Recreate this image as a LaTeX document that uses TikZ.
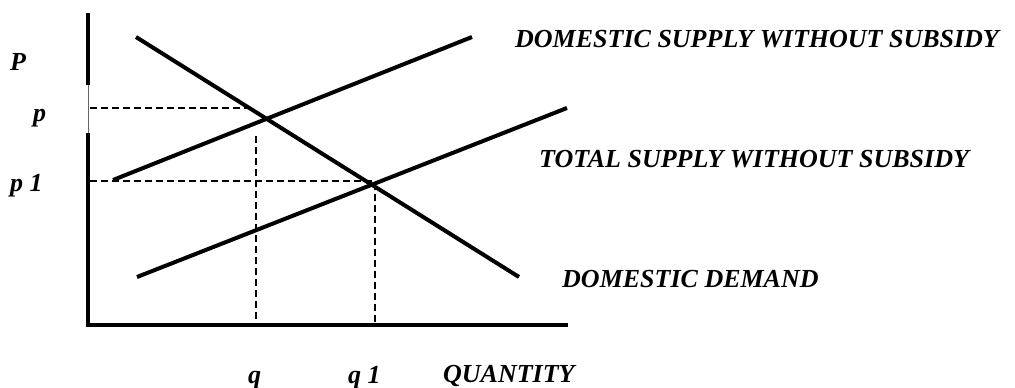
\documentclass[tikz,border=0pt]{standalone}
\usepackage{fontspec}
\setmainfont{Liberation Serif}
\begin{document}
\begin{tikzpicture}[x=1pt,y=-1pt,
  curve/.style={line width=4pt},
  axisline/.style={line width=4pt},
  guide/.style={line width=1.6pt,dash pattern=on 7pt off 4pt},
  lbl/.style={inner sep=0pt,anchor=base west,font=\fontsize{26}{30}\selectfont\bfseries\itshape}]
\useasboundingbox (0,0) rectangle (1015,388);
% axes
\coordinate (ytop) at (88,13);
\coordinate (ygap1) at (88,85);
\coordinate (ygap2) at (88,133);
\coordinate (origin) at (88,325);
\coordinate (xend) at (568,325);
\draw[axisline] (ytop) -- (ygap1);
\draw[line width=1pt,black!60] (ygap1) -- (ygap2);
\draw[axisline] (ygap2) -- (origin) -- (xend);
% curves
\coordinate (d1) at (136,37);
\coordinate (d2) at (519,277);
\coordinate (s1) at (113,180);
\coordinate (s2) at (472,37);
\coordinate (t1) at (137,277);
\coordinate (t2) at (567,108);
\draw[curve] (d1) -- (d2);
\draw[curve] (s1) -- (s2);
\draw[curve] (t1) -- (t2);
% guides
\coordinate (pa) at (90,108);
\coordinate (pb) at (250,108);
\coordinate (qa) at (256,136);
\coordinate (qb) at (256,323);
\coordinate (p1a) at (90,181);
\coordinate (p1b) at (373,181);
\coordinate (q1a) at (375,183);
\coordinate (q1b) at (375,323);
\draw[guide] (pa) -- (pb);
\draw[guide] (qa) -- (qb);
\draw[guide] (p1a) -- (p1b);
\draw[guide] (q1a) -- (q1b);
% labels
\node[lbl] (lP) at (10,70) {P};
\node[lbl] (lp) at (33,121) {p};
\node[lbl] (lp1) at (10,191) {p 1};
\node[lbl] (lq) at (248,383) {q};
\node[lbl] (lq1) at (348,383) {q 1};
\node[lbl] (lQ) at (443,382) {QUANTITY};
\node[lbl] (lDS) at (515,47) {DOMESTIC SUPPLY WITHOUT SUBSIDY};
\node[lbl] (lTS) at (539,167) {TOTAL SUPPLY WITHOUT SUBSIDY};
\node[lbl] (lDD) at (562,287) {DOMESTIC DEMAND};
\end{tikzpicture}
\end{document}
